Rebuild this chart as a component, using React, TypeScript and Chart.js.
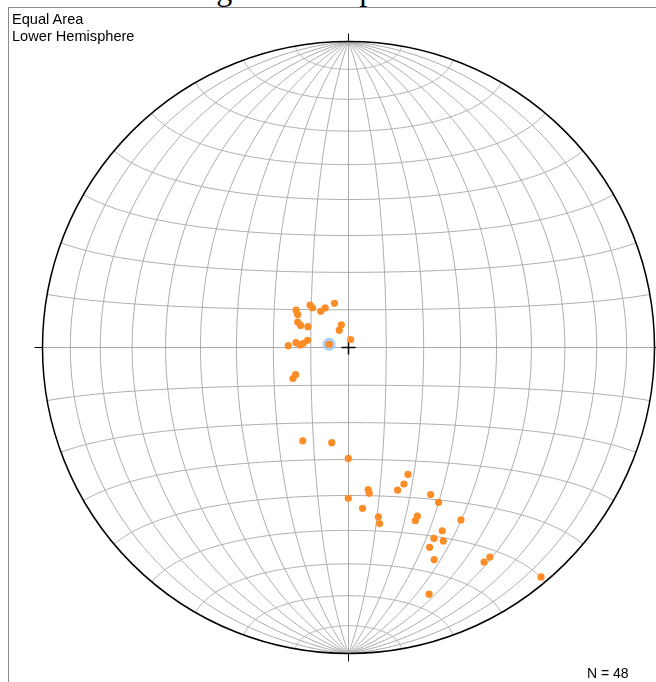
import React, { useEffect, useRef } from "react";
import { Chart, registerables } from "chart.js";

Chart.register(...registerables);

// ---- text ----
const TITLE = "Paleomagnetic Sample Directions";
const PROJECTION_LABEL = "Equal Area";
const HEMISPHERE_LABEL = "Lower Hemisphere";
const COUNT_LABEL = "N = 48";

// ---- data: line orientations (degrees) ----
const trends = [
  305.5, 303.0, 317.8, 317.7, 322.5, 329.5, 342.4, 296.6, 294.8, 297.1,
  342.5, 332.0, 15.0, 271.7, 275.2, 273.0, 275.3, 280.0, 242.8, 240.8,
  279.5,
  206.1, 190.0, 180.1, 154.9, 157.9, 161.0, 172.1, 171.9, 180.1, 150.8,
  149.8, 175.0, 170.0, 170.0, 157.8, 158.9, 146.9, 152.9, 155.9, 153.9,
  157.9, 158.0, 161.9, 147.7, 146.0, 140.0,
];
const plunges = [
  72.9, 73.9, 74.8, 75.8, 77.9, 77.8, 77.7, 74.9, 76.0, 77.9,
  83.7, 84.8, 87.8, 74.0, 76.0, 77.1, 78.0, 79.0, 74.2, 73.1,
  84.8,
  62.2, 64.2, 60.3, 52.2, 50.2, 49.2, 51.3, 50.2, 49.2, 44.2,
  41.1, 46.2, 43.2, 41.2, 40.2, 39.2, 33.2, 33.2, 32.2, 30.3,
  30.2, 26.2, 16.3, 18.2, 18.5, 2.4,
];
const selectedIndex = 20;
const gridStepDeg = 10;

const ORANGE = "rgb(252,141,38)";
const HALO = "rgba(150,195,245,0.8)";
const GRID = "#ababab";

const D2R = Math.PI / 180;

// Lambert equal-area, lower hemisphere (x east, y north, z down), unit primitive
function project(x: number, y: number, z: number) {
  const f = Math.sqrt(1 / (1 + Math.max(z, 0)));
  return { x: x * f, y: y * f };
}
function lineToPoint(trend: number, plunge: number) {
  const t = trend * D2R;
  const p = plunge * D2R;
  return project(Math.cos(p) * Math.sin(t), Math.cos(p) * Math.cos(t), Math.sin(p));
}

const netPlugin = {
  id: "schmidtNet",
  beforeDatasetsDraw(chart: any) {
    const ctx = chart.ctx as CanvasRenderingContext2D;
    const xs = chart.scales.x;
    const ys = chart.scales.y;
    const px = (v: number) => xs.getPixelForValue(v);
    const py = (v: number) => ys.getPixelForValue(v);
    const cx = px(0);
    const cy = py(0);
    const R = px(1) - cx;

    ctx.save();
    ctx.lineWidth = 1;
    ctx.strokeStyle = GRID;
    const drawCurve = (fn: (u: number) => { x: number; y: number }, n: number) => {
      ctx.beginPath();
      for (let i = 0; i <= n; i++) {
        const p = fn(i / n);
        const X = px(p.x);
        const Y = py(p.y);
        if (i === 0) ctx.moveTo(X, Y);
        else ctx.lineTo(X, Y);
      }
      ctx.stroke();
    };

    for (let d = gridStepDeg; d < 90; d += gridStepDeg) {
      const dr = d * D2R;
      for (const s of [1, -1]) {
        // great circles (meridians) through N and S poles
        drawCurve((u) => {
          const t = u * Math.PI;
          return project(s * Math.sin(t) * Math.cos(dr), Math.cos(t), Math.sin(t) * Math.sin(dr));
        }, 240);
        // small circles about the N-S axis
        drawCurve((u) => {
          const f = u * Math.PI;
          return project(Math.sin(dr) * Math.cos(f), s * Math.cos(dr), Math.sin(dr) * Math.sin(f));
        }, 240);
      }
    }
    // diameters
    ctx.beginPath();
    ctx.moveTo(px(-1), cy);
    ctx.lineTo(px(1), cy);
    ctx.moveTo(cx, py(1));
    ctx.lineTo(cx, py(-1));
    ctx.stroke();

    // primitive
    ctx.strokeStyle = "#000";
    ctx.lineWidth = 1.5;
    ctx.beginPath();
    ctx.arc(cx, cy, R, 0, Math.PI * 2);
    ctx.stroke();

    // cardinal ticks
    ctx.lineWidth = 1;
    const tick = 8;
    ctx.beginPath();
    ctx.moveTo(cx, cy - R);
    ctx.lineTo(cx, cy - R - tick);
    ctx.moveTo(cx, cy + R);
    ctx.lineTo(cx, cy + R + tick);
    ctx.moveTo(cx - R, cy);
    ctx.lineTo(cx - R - tick, cy);
    ctx.moveTo(cx + R, cy);
    ctx.lineTo(cx + R + tick, cy);
    ctx.stroke();

    // centre cross
    ctx.lineWidth = 1.5;
    ctx.beginPath();
    ctx.moveTo(cx - 7, cy);
    ctx.lineTo(cx + 7, cy);
    ctx.moveTo(cx, cy - 7);
    ctx.lineTo(cx, cy + 7);
    ctx.stroke();
    ctx.restore();
  },
};

export default function App() {
  const canvasRef = useRef<HTMLCanvasElement | null>(null);

  useEffect(() => {
    const canvas = canvasRef.current;
    if (!canvas) return;
    const points = trends.map((t, i) => lineToPoint(t, plunges[i]));
    const chart = new Chart(canvas, {
      type: "scatter",
      data: {
        datasets: [
          {
            label: "Samples",
            data: points,
            pointRadius: 3.6,
            pointBackgroundColor: ORANGE,
            pointBorderWidth: 0,
            order: 0,
          },
          {
            label: "Selected",
            data: [points[selectedIndex]],
            pointRadius: 6.5,
            pointBackgroundColor: HALO,
            pointBorderWidth: 0,
            order: 1,
          },
        ],
      },
      options: {
        responsive: false,
        animation: false,
        events: [],
        devicePixelRatio: 1,
        layout: { padding: 34.5 },
        scales: {
          x: { type: "linear", min: -1, max: 1, display: false },
          y: { type: "linear", min: -1, max: 1, display: false },
        },
        plugins: {
          legend: { display: false },
          tooltip: { enabled: false },
          title: { display: false },
        },
      },
      plugins: [netPlugin],
    } as any);
    return () => chart.destroy();
  }, []);

  const sans = "'Liberation Sans', Arial, Helvetica, sans-serif";
  return (
    <div
      style={{
        position: "absolute",
        left: 0,
        top: 0,
        width: 656,
        height: 682,
        overflow: "hidden",
        background: "#fff",
      }}
    >
      <div
        style={{
          position: "absolute",
          left: 106,
          top: -31,
          fontFamily: "'Liberation Serif', 'Times New Roman', serif",
          fontSize: 32,
          lineHeight: "40px",
          whiteSpace: "nowrap",
          color: "#000",
        }}
      >
        {TITLE}
      </div>
      <div
        style={{
          position: "absolute",
          left: 8,
          top: 7,
          width: 700,
          height: 700,
          boxSizing: "border-box",
          border: "1px solid #8a8a8a",
        }}
      />
      <canvas
        ref={canvasRef}
        width={681}
        height={681}
        style={{ position: "absolute", left: 8, top: 7, width: 681, height: 681, display: "block" }}
      />
      <div style={{ position: "absolute", left: 12, top: 11, fontFamily: sans, fontSize: 14.6, lineHeight: "17px", color: "#000" }}>
        <div>{PROJECTION_LABEL}</div>
        <div>{HEMISPHERE_LABEL}</div>
      </div>
      <div
        style={{
          position: "absolute",
          left: 587,
          top: 665,
          fontFamily: sans,
          fontSize: 14,
          lineHeight: "17px",
          whiteSpace: "nowrap",
          color: "#000",
        }}
      >
        {COUNT_LABEL}
      </div>
    </div>
  );
}
